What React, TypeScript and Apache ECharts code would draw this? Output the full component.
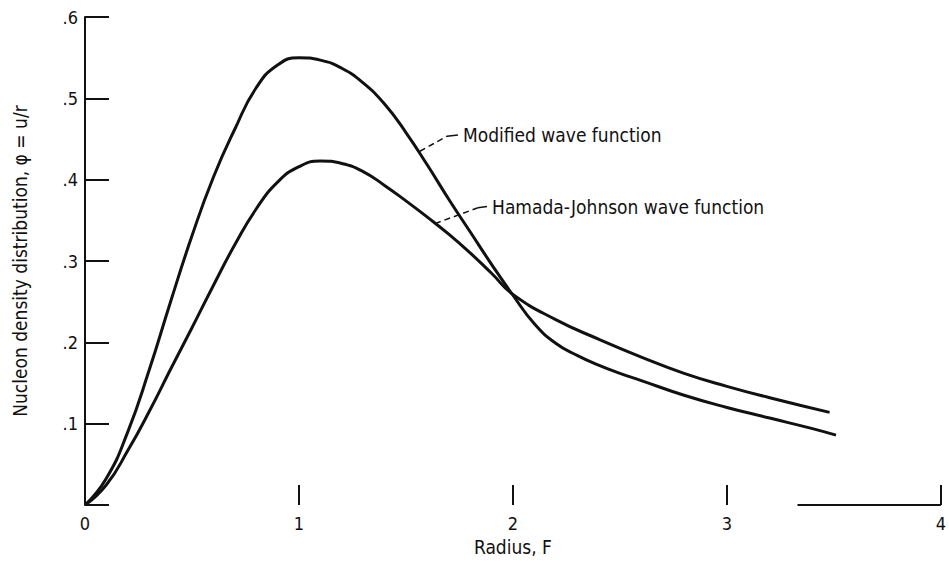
import React, { useEffect, useRef } from "react";
import * as echarts from "echarts";

const radiusModified = [0, 0.1, 0.2, 0.3, 0.4, 0.5, 0.6, 0.7, 0.8, 0.9, 1.0, 1.1, 1.2, 1.3, 1.4, 1.5, 1.6, 1.7, 1.8, 1.9, 2.0, 2.1, 2.2, 2.3, 2.4, 2.5, 2.6, 2.8, 3.0, 3.2, 3.4, 3.51];
const modifiedValues = [0, 0.033, 0.09, 0.166, 0.25, 0.331, 0.403, 0.462, 0.513, 0.541, 0.55, 0.547, 0.537, 0.519, 0.493, 0.458, 0.418, 0.376, 0.336, 0.296, 0.258, 0.223, 0.199, 0.184, 0.172, 0.162, 0.153, 0.135, 0.12, 0.107, 0.094, 0.086];

const radiusHJ = [0, 0.1, 0.2, 0.3, 0.4, 0.5, 0.6, 0.7, 0.8, 0.9, 1.0, 1.1, 1.2, 1.3, 1.4, 1.5, 1.6, 1.7, 1.8, 1.9, 2.0, 2.2, 2.4, 2.6, 2.8, 3.0, 3.2, 3.48];
const hamadaJohnsonValues = [0, 0.025, 0.067, 0.115, 0.167, 0.218, 0.27, 0.32, 0.364, 0.397, 0.416, 0.423, 0.42, 0.41, 0.393, 0.374, 0.354, 0.333, 0.31, 0.285, 0.259, 0.228, 0.204, 0.182, 0.162, 0.146, 0.132, 0.114];

const xTickLabels = ["0", "1", "2", "3", "4"];
const yTickLabels = ["", ".1", ".2", ".3", ".4", ".5", ".6"];

const axisSegmentX = [3.33, 4];

const modifiedLeaderDashed = [[1.565, 0.435], [1.692, 0.4535]];
const modifiedLeaderSolid = [[1.692, 0.4535], [1.743, 0.455]];
const hjLeaderDashed = [[1.636, 0.346], [1.836, 0.3655]];
const hjLeaderSolid = [[1.836, 0.3655], [1.879, 0.367]];

const FONT = "'Liberation Sans Narrow', 'DejaVu Sans Condensed', 'Roboto', sans-serif";
const INK = "#111";

export default function App() {
  const ref = useRef<HTMLDivElement>(null);
  useEffect(() => {
    if (!ref.current) return;
    const chart = echarts.init(ref.current, undefined, { renderer: "svg" });
    const zip = (xs: number[], ys: number[]) => xs.map((x, i) => [x, ys[i]]);
    const leader = (data: number[][], dashed: boolean, label?: string) => ({
      type: "line",
      data,
      symbol: "none",
      silent: true,
      lineStyle: { color: INK, width: 1.5, type: dashed ? [6, 4] : "solid" },
      endLabel: label
        ? {
            show: true,
            formatter: label,
            color: INK,
            fontFamily: FONT,
            fontSize: 19,
            distance: 5,
          }
        : { show: false },
    });
    chart.setOption({
      animation: false,
      backgroundColor: "#fff",
      grid: { left: 85, right: 8, top: 17, bottom: 53, containLabel: false },
      xAxis: {
        type: "value",
        min: 0,
        max: 4,
        interval: 1,
        axisLine: { show: false },
        axisTick: { show: true, inside: true, length: 20, lineStyle: { color: INK, width: 2 } },
        axisLabel: {
          color: INK,
          fontFamily: FONT,
          fontSize: 18,
          margin: 9,
          formatter: (v: number) => xTickLabels[Math.round(v)] ?? "",
        },
        splitLine: { show: false },
        name: "Radius, F",
        nameLocation: "middle",
        nameGap: 30,
        nameTextStyle: { color: INK, fontFamily: FONT, fontSize: 19 },
      },
      yAxis: {
        type: "value",
        min: 0,
        max: 0.6,
        interval: 0.1,
        axisLine: { show: true, lineStyle: { color: INK, width: 2 } },
        axisTick: { show: true, inside: true, length: 24, lineStyle: { color: INK, width: 2 } },
        axisLabel: {
          color: INK,
          fontFamily: FONT,
          fontSize: 18,
          margin: 7,
          formatter: (v: number) => yTickLabels[Math.round(v * 10)] ?? "",
        },
        splitLine: { show: false },
        name: "Nucleon density distribution, \u03c6 = u/r",
        nameLocation: "middle",
        nameRotate: 90,
        nameGap: 56,
        nameTextStyle: { color: INK, fontFamily: FONT, fontSize: 19 },
      },
      series: [
        {
          name: "Modified wave function",
          type: "line",
          data: zip(radiusModified, modifiedValues),
          smooth: 0.5,
          symbol: "none",
          lineStyle: { color: INK, width: 3 },
        },
        {
          name: "Hamada-Johnson wave function",
          type: "line",
          data: zip(radiusHJ, hamadaJohnsonValues),
          smooth: 0.5,
          symbol: "none",
          lineStyle: { color: INK, width: 3 },
        },
        {
          type: "line",
          data: axisSegmentX.map((x) => [x, 0]),
          symbol: "none",
          silent: true,
          lineStyle: { color: INK, width: 2 },
        },
        leader(modifiedLeaderDashed, true),
        leader(modifiedLeaderSolid, false, "Modified wave function"),
        leader(hjLeaderDashed, true),
        leader(hjLeaderSolid, false, "Hamada-Johnson wave function"),
      ],
    });
    return () => chart.dispose();
  }, []);
  return (
    <div
      ref={ref}
      style={{ width: 949, height: 561, position: "absolute", left: 0, top: 0, background: "#fff" }}
    />
  );
}
